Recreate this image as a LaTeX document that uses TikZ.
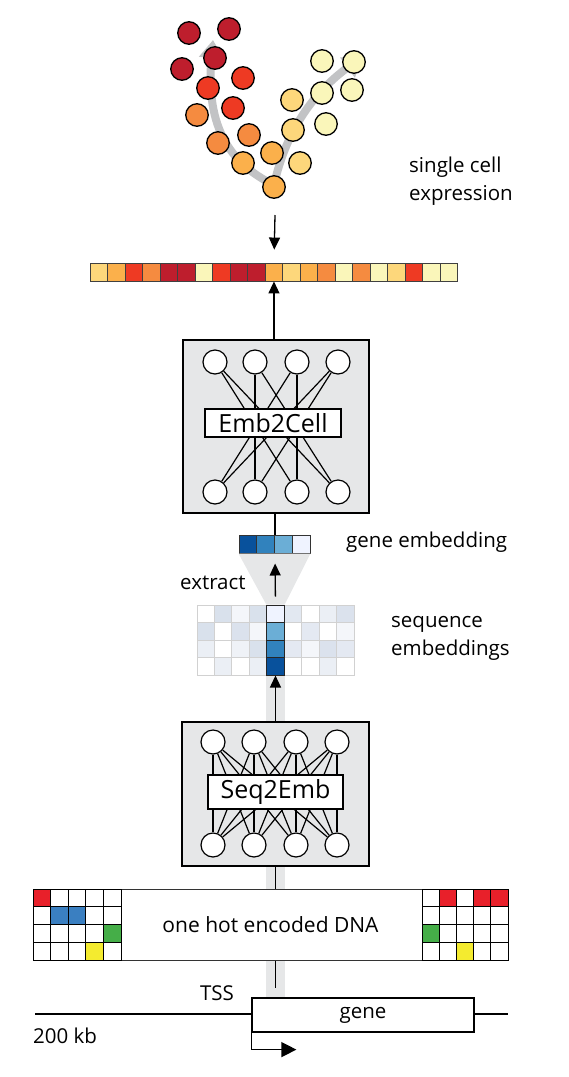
\documentclass[tikz,border=0pt]{standalone}
\usepackage{fontspec}
\setmainfont{Open Sans}
\usetikzlibrary{positioning,arrows.meta}
\pgfdeclarelayer{background}
\pgfsetlayers{background,main}

\definecolor{cdred}{HTML}{BE1E2D}
\definecolor{cred}{HTML}{EE3A23}
\definecolor{corange}{HTML}{F58B40}
\definecolor{clorange}{HTML}{FBB04B}
\definecolor{cyellow}{HTML}{FDD77B}
\definecolor{cpale}{HTML}{FAF6BA}
\definecolor{boxgray}{HTML}{E6E7E8}
\definecolor{trailgray}{HTML}{C2C3C5}
\definecolor{embA}{HTML}{08519C}
\definecolor{embB}{HTML}{3182BD}
\definecolor{embC}{HTML}{6BAED6}
\definecolor{embD}{HTML}{EFF3FF}
\definecolor{faint}{HTML}{4A6FA5}
\definecolor{dnared}{HTML}{E8202A}
\definecolor{dnablue}{HTML}{3A7FC1}
\definecolor{dnagreen}{HTML}{45AE48}
\definecolor{dnayellow}{HTML}{F4EB2F}

\begin{document}
\begin{tikzpicture}[x=1pt, y=-1pt, >={Triangle[length=12pt,width=11pt]},
        cell/.style={circle, draw, line width=1.3pt, minimum size=22.5pt, inner sep=0pt},
        unit/.style={circle, draw, fill=white, line width=1.2pt, minimum size=24pt, inner sep=0pt},
        netbox/.style={rectangle, draw, fill=boxgray, line width=1.8pt},
        netlabel/.style={rectangle, draw, fill=white, line width=1.5pt, inner sep=0pt,
                         font=\fontsize{25}{30}\selectfont},
        sq/.style={rectangle, inner sep=0pt},
        edge/.style={line width=1.2pt},
        trail/.style={trailgray, line width=8pt, -{Triangle[length=18pt,width=24pt]}},
        lbl/.style={font=\fontsize{20.5}{27.5}\selectfont, align=left, inner sep=0pt}]
    \useasboundingbox (0,0) rectangle (568,1077);

    % trajectories
    \draw[trail] (276,186) .. controls (232,165) and (205,130) .. (213,40);
    \draw[trail] (274,185) .. controls (285,135) and (310,95) .. (362,57);

    % cells
    \foreach \p [count=\i] in {(189,33),(229,29),(182,69),(215,58)}
        \node[cell, fill=cdred] (cd\i) at \p {};
    \foreach \p [count=\i] in {(208,88),(243,78),(233,108)}
        \node[cell, fill=cred] (cr\i) at \p {};
    \foreach \p [count=\i] in {(197,115),(218,143),(249,135)}
        \node[cell, fill=corange] (co\i) at \p {};
    \foreach \p [count=\i] in {(243,163),(272,153),(274,187)}
        \node[cell, fill=clorange] (cl\i) at \p {};
    \foreach \p [count=\i] in {(292,100),(293,130),(300,163)}
        \node[cell, fill=cyellow] (cy\i) at \p {};
    \foreach \p [count=\i] in {(322,61),(354,62),(322,93),(352,90),(326,124)}
        \node[cell, fill=cpale] (cp\i) at \p {};
    \node[lbl, anchor=west] (sclabel) at (409,181) {single cell\\expression};
    \coordinate (cellsout) at (275,215);

    % expression vector
    \foreach \c [count=\i] in {cyellow,clorange,cred,corange,cdred,cdred,cpale,cred,cdred,cdred,clorange,
                               cyellow,clorange,corange,cpale,corange,cpale,cyellow,cred,cpale,cpale}
        \node[sq, fill=\c, draw=black!75, line width=0.9pt, minimum width=17.52pt, minimum height=18pt]
            (e\i) at ({90+(\i-0.5)*17.52},272) {};
    \draw[->, line width=1.3pt] (cellsout) -- (e11.north) [shorten >=13pt];

    % Emb2Cell
    \node[netbox, minimum width=186pt, minimum height=173pt] (emb2cell) at (276,426.5) {};
    \foreach \x [count=\i] in {215,255,297,338} {
        \node[unit] (et\i) at (\x,362) {};
        \node[unit] (eb\i) at (\x,492) {};
    }
    \foreach \a/\b in {1/3,1/4,2/2,2/4,3/1,3/3,4/1,4/2}
        \draw[edge] (et\a) -- (eb\b);
    \node[netlabel, minimum width=136pt, minimum height=28pt] (emb2celllbl) at (273,423) {Emb2Cell};
    \draw[->, line width=1.3pt] (emb2cell.north -| e11) -- (e11.south);

    % gene embedding
    \foreach \c [count=\i] in {embA,embB,embC,embD}
        \node[sq, fill=\c, draw=black!80, line width=1pt, minimum width=17.75pt, minimum height=18pt]
            (g\i) at ({239+(\i-0.5)*17.75},544) {};
    \node[lbl, anchor=west] (genelbl) at (346,542) {gene embedding};
    \draw[line width=1.3pt] (emb2cell.south -| g2.east) -- (g2.north east);

    % sequence embeddings
    \foreach \row [count=\r] in {{0,21,6,21,0,16,0,11,20},{21,0,20,6,0,0,15,0,6},
                                  {11,0,9,21,0,15,6,20,15},{0,11,0,11,0,0,0,11,0}}
        \foreach \v [count=\c] in \row
            \node[sq, fill=faint!\v!white, draw=black!18, line width=0.8pt, minimum width=17.44pt,
                  minimum height=17.5pt] (s\c-\r) at ({197+(\c-0.5)*17.44},{605+(\r-0.5)*17.5}) {};
    \foreach \c [count=\r] in {embD,embC,embB,embA}
        \node[sq, fill=\c, draw=black!85, line width=1pt, minimum width=17.44pt, minimum height=17.5pt]
            (h\r) at (s5-\r) {};
    \node[lbl, anchor=west] (seqlbl) at (391,638.5) {sequence\\embeddings};
    \fill[boxgray] (g1.south west) -- (g4.south east) -- (h1.north east) -- (h1.north west) -- cycle;
    \node[lbl, anchor=west] (extractlbl) at (180,583) {extract};
    \draw[->, line width=1.3pt] (h1.north) -- (g2.south east) [shorten <=8pt, shorten >=10pt];

    % Seq2Emb
    \node[netbox, minimum width=187pt, minimum height=144pt] (seq2emb) at (275.5,794) {};
    \foreach \x [count=\i] in {213,254,296,337} {
        \node[unit] (st\i) at (\x,742) {};
        \node[unit] (sb\i) at (\x,845) {};
    }
    \foreach \a in {1,...,4}
        \foreach \b in {1,...,4}
            \draw[edge] (st\a) -- (sb\b);
    \node[netlabel, minimum width=135pt, minimum height=34pt] (seq2emblbl) at (275.5,792) {Seq2Emb};
    \draw[->, line width=1.3pt] (seq2emb.north -| h4) -- (h4.south);

    % one hot encoded DNA
    \node[draw=black!80, fill=white, line width=1pt, minimum width=475pt, minimum height=71pt,
          font=\fontsize{21}{24}\selectfont] (dna) at (270.5,924.5) {one hot encoded DNA};
    \foreach \row [count=\r] in {{dnared,white,white,white,white},{white,dnablue,dnablue,white,white},
                                 {white,white,white,white,dnagreen},{white,white,white,dnayellow,white}}
        \foreach \f [count=\c] in \row
            \node[sq, fill=\f, draw, line width=1pt, minimum width=17.6pt, minimum height=17.75pt]
                (dl\r\c) at ({33+(\c-0.5)*17.6},{889+(\r-0.5)*17.75}) {};
    \foreach \row [count=\r] in {{white,dnared,white,dnared,dnared},{white,white,white,white,white},
                                 {dnagreen,white,white,white,white},{white,white,dnayellow,white,white}}
        \foreach \f [count=\c] in \row
            \node[sq, fill=\f, draw, line width=1pt, minimum width=17.2pt, minimum height=17.75pt]
                (dr\r\c) at ({422+(\c-0.5)*17.2},{889+(\r-0.5)*17.75}) {};
    \draw[line width=1.3pt] (dna.north -| h4) -- (seq2emb.south -| h4);

    % gene locus
    \node[draw, line width=1.2pt, minimum width=222pt, minimum height=34pt, inner sep=0pt,
          font=\fontsize{20.5}{24}\selectfont] (gene) at (363,1015) {gene};
    \coordinate (chrL) at (35,1014);
    \coordinate (chrR) at (508,1014);
    \draw[line width=1.2pt] (chrL) -- (chrL -| gene.west);
    \draw[line width=1.2pt] (chrR -| gene.east) -- (chrR);
    \node[lbl] (tsslbl) at (217,993) {TSS};
    \node[lbl, anchor=west] (kblbl) at (33,1036) {200 kb};
    \draw[line width=1.3pt] (dna.south -| h4) -- (gene.north -| h4) [shorten >=9pt];
    \draw[-{Triangle[length=15pt,width=15pt]}, line width=1.3pt] (gene.south west) -- ++(0,17) -- ++(45,0);

    % grey guide band
    \begin{pgfonlayer}{background}
        \fill[boxgray] (h4.south west) rectangle (gene.north -| h4.east);
    \end{pgfonlayer}
\end{tikzpicture}
\end{document}
